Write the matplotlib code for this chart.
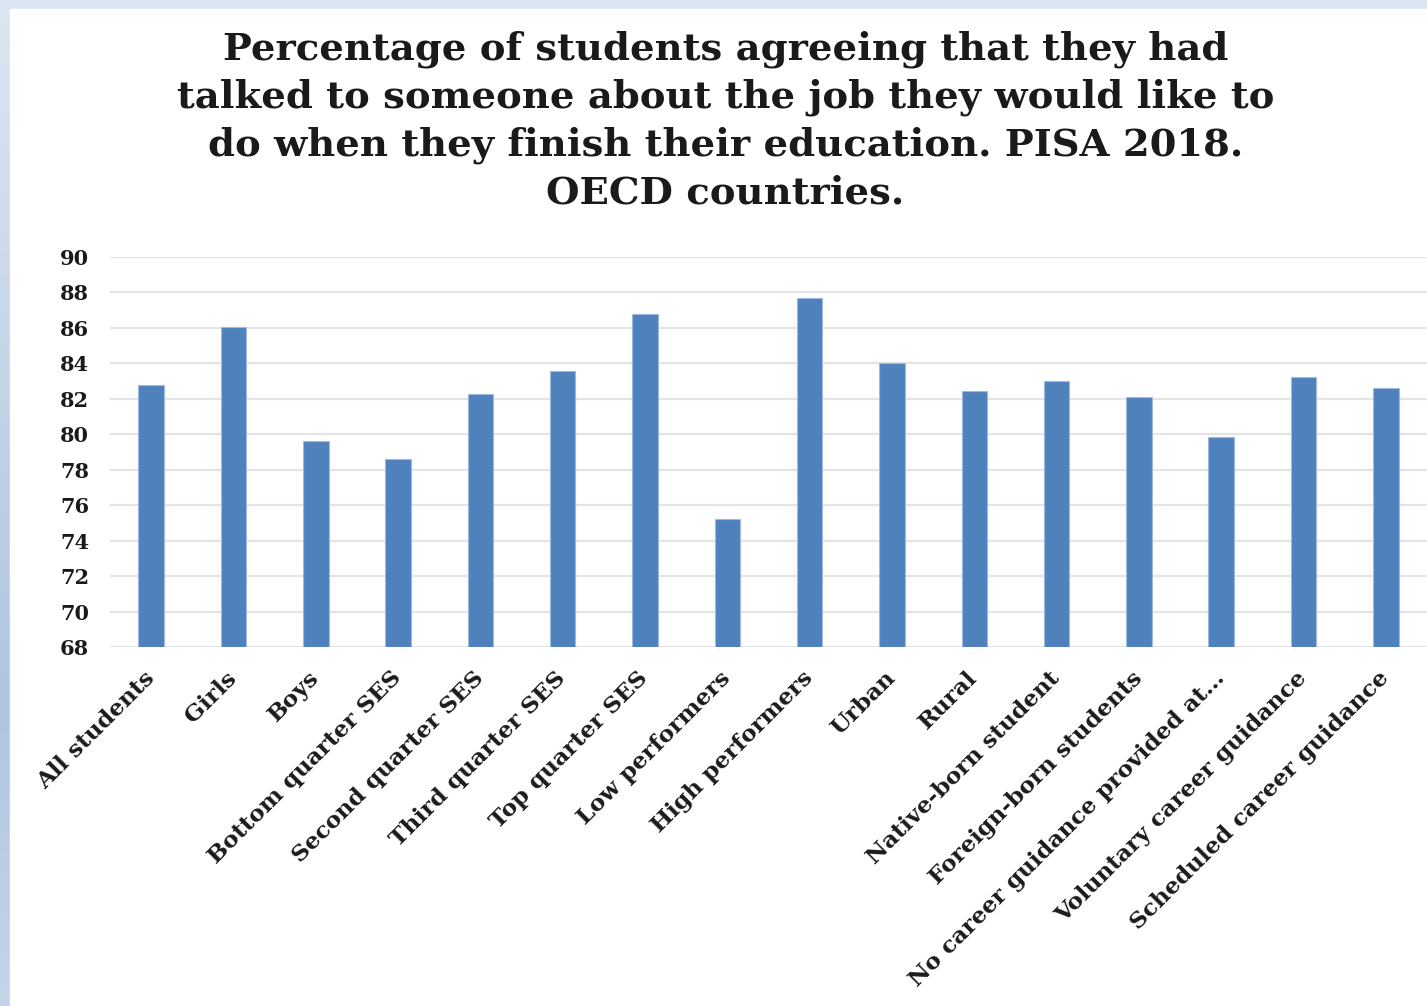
import numpy as np
import matplotlib
matplotlib.use("Agg")
import matplotlib.pyplot as plt
from matplotlib.colors import LinearSegmentedColormap
from matplotlib.patches import Rectangle

groups = ["All students", "Girls", "Boys", "Bottom quarter SES",
          "Second quarter SES", "Third quarter SES", "Top quarter SES",
          "Low performers", "High performers", "Urban", "Rural",
          "Native-born student", "Foreign-born students",
          "No career guidance provided at\u2026", "Voluntary career guidance",
          "Scheduled career guidance"]
pct_agree = [82.8, 86.05, 79.6, 78.6, 82.3, 83.55, 86.8, 75.2, 87.7,
             84.0, 82.45, 83.0, 82.1, 79.85, 83.25, 82.6]
y_ticks = list(range(68, 91, 2))

title = ("Percentage of students agreeing that they had\n"
         "talked to someone about the job they would like to\n"
         "do when they finish their education. PISA 2018.\n"
         "OECD countries.")

W, H = 1427, 1006
fig = plt.figure(figsize=(W / 100, H / 100), dpi=100)

# slide backdrop: blue gradient band with a white page on top
bg = fig.add_axes([0, 0, 1, 1], zorder=-10)
grad = LinearSegmentedColormap.from_list(
    "band", [(0, "#dce6f2"), (0.7, "#afc5e0"), (1, "#c4d5ea")])
bg.imshow(np.linspace(0, 1, 256).reshape(-1, 1), aspect="auto", cmap=grad,
          extent=[0, 1, 0, 1], origin="upper")
bg.add_patch(Rectangle((10 / W, 0), 1, 1 - 9 / H, color="white"))
bg.set_xlim(0, 1)
bg.set_ylim(0, 1)
bg.axis("off")

serif = "DejaVu Serif"

fig.text(0.5083, 1 - 121 / H, title, ha="center", va="center",
         fontsize=27.7, fontweight="bold", family=serif, color="#1a1a1a",
         linespacing=1.36)

ax = fig.add_axes([110 / W, 1 - 647 / H, 1 - 110 / W, 390 / H])
ax.set_facecolor("none")
x = np.arange(len(groups))
ax.bar(x, pct_agree, width=0.31, color="#4f81bd",
       edgecolor="#9dbbe0", linewidth=0.8, zorder=3)

ax.set_ylim(68, 90)
ax.set_xlim(-0.5, len(groups) - 0.5)
ax.set_yticks(y_ticks)
ax.set_yticklabels([str(t) for t in y_ticks], fontsize=15,
                   fontweight="bold", family=serif, color="#1a1a1a")
ax.set_xticks(x)
ax.set_xticklabels(groups, rotation=45, ha="right", va="center",
                   rotation_mode="anchor", fontsize=16.8, fontweight="bold",
                   family=serif, color="#1a1a1a")
ax.tick_params(axis="both", length=0)
ax.tick_params(axis="y", pad=15)
ax.tick_params(axis="x", pad=20)
ax.grid(axis="y", color="#e4e4e4", linewidth=1.6, zorder=0)
for s in ax.spines.values():
    s.set_visible(False)

fig.savefig("out.png", dpi=100)
